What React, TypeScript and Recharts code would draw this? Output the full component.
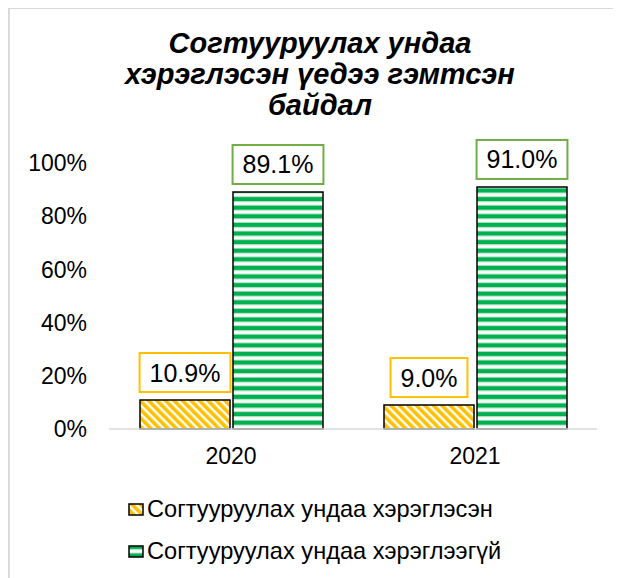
import React from 'react';
import { BarChart, Bar, XAxis, YAxis, LabelList } from 'recharts';

const categories = ['2020', '2021'];
const usedValues = [10.9, 9.0];
const notUsedValues = [89.1, 91.0];
const seriesNames = ['Согтууруулах ундаа хэрэглэсэн', 'Согтууруулах ундаа хэрэглээгүй'];
const yTicks = [0, 20, 40, 60, 80, 100];
const titleLines = ['Согтууруулах ундаа', 'хэрэглэсэн үедээ гэмтсэн', 'байдал'];

const YELLOW = '#FFC000';
const GREEN = '#00B050';
const YELLOW_BOX = '#FFC000';
const GREEN_BOX = '#70AD47';
const FONT = '"Liberation Sans", Arial, sans-serif';

const data = categories.map((c, i) => ({ year: c, used: usedValues[i], notUsed: notUsedValues[i] }));

const charW: Record<string, number> = { '.': 0.278, '%': 0.889 };
const textWidth = (s: string, size: number) =>
  s.split('').reduce((a, ch) => a + (charW[ch] ?? 0.556), 0) * size;

const makeLabel = (stroke: string) => (props: any) => {
  const { x, y, width, value } = props;
  const txt = Number(value).toFixed(1) + '%';
  const fs = 25;
  const w = textWidth(txt, fs) + 20;
  const h = 39;
  const cx = Number(x) + Number(width) / 2;
  const bottom = Number(y) - 8;
  return (
    <g>
      <rect x={cx - w / 2} y={bottom - h} width={w} height={h} fill="#fff" stroke={stroke} strokeWidth={2} />
      <text x={cx} y={bottom - h / 2} dy="0.36em" textAnchor="middle" fontSize={fs} fontFamily={FONT} fill="#000">
        {txt}
      </text>
    </g>
  );
};

const Patterns = () => (
  <defs>
    <pattern id="yellowDiag" patternUnits="userSpaceOnUse" width="6" height="6" patternTransform="rotate(-45)">
      <rect x="0" y="0" width="6" height="6" fill="#fff" />
      <rect x="0" y="0" width="3.6" height="6" fill={YELLOW} />
    </pattern>
    <pattern id="greenHoriz" patternUnits="userSpaceOnUse" width="8" height="8.6">
      <rect x="0" y="0" width="8" height="8.6" fill="#fff" />
      <rect x="0" y="0" width="8" height="4" fill={GREEN} />
      <rect x="0" y="4" width="8" height="1" fill="#9fdfb8" />
      <rect x="0" y="7.6" width="8" height="1" fill="#9fdfb8" />
    </pattern>
  </defs>
);

const LegendIcon = ({ fill }: { fill: string }) => (
  <svg width={16} height={13} style={{ display: 'block' }}>
    <Patterns />
    <rect x={1} y={1} width={14} height={11} fill={fill} stroke="#000" strokeWidth={1.5} />
  </svg>
);

export default function App() {
  return (
    <div style={{ position: 'relative', width: 613, height: 570, fontFamily: FONT, background: '#fff' }}>
      <div
        style={{
          position: 'absolute',
          left: 0,
          top: -1,
          width: 700,
          height: 700,
          borderLeft: '2px solid #d9d9d9',
          borderTop: '2px solid #d9d9d9',
          boxSizing: 'border-box',
          pointerEvents: 'none',
        }}
      />
      <div
        style={{
          position: 'absolute',
          left: 312 - 250,
          top: 20,
          width: 500,
          textAlign: 'center',
          fontWeight: 'bold',
          fontStyle: 'italic',
          fontSize: 29,
          lineHeight: '31px',
          color: '#000',
        }}
      >
        {titleLines.map((l, i) => (
          <div key={i}>{l}</div>
        ))}
      </div>
      <div style={{ position: 'absolute', left: 0, top: 0 }}>
        <BarChart
          width={613}
          height={570}
          data={data}
          margin={{ top: 155, right: 24, bottom: 119, left: 0 }}
          barGap={3}
          barSize={90}
        >
          <Patterns />
          <XAxis
            dataKey="year"
            height={30}
            axisLine={{ stroke: '#d9d9d9', strokeWidth: 1.5 }}
            tickLine={false}
            tickSize={0}
            tickMargin={19}
            tick={{ fontSize: 23, fill: '#000', fontFamily: FONT }}
          />
          <YAxis
            width={101}
            domain={[0, 100]}
            ticks={yTicks}
            tickFormatter={(v: number) => `${v}%`}
            axisLine={false}
            tickLine={false}
            tickSize={0}
            tickMargin={22}
            tick={{ fontSize: 23, fill: '#000', fontFamily: FONT }}
          />
          <Bar dataKey="used" name={seriesNames[0]} fill="url(#yellowDiag)" stroke="#000" strokeWidth={1.5} isAnimationActive={false}>
            <LabelList dataKey="used" content={makeLabel(YELLOW_BOX)} />
          </Bar>
          <Bar dataKey="notUsed" name={seriesNames[1]} fill="url(#greenHoriz)" stroke="#000" strokeWidth={1.5} isAnimationActive={false}>
            <LabelList dataKey="notUsed" content={makeLabel(GREEN_BOX)} />
          </Bar>
        </BarChart>
      </div>
      <div style={{ position: 'absolute', left: 120, top: 480, fontSize: 23.6, color: '#000' }}>
        {seriesNames.map((n, i) => (
          <div key={i} style={{ display: 'flex', alignItems: 'center', height: 42 }}>
            <LegendIcon fill={i === 0 ? 'url(#yellowDiag)' : 'url(#greenHoriz)'} />
            <span style={{ marginLeft: 3 }}>{n}</span>
          </div>
        ))}
      </div>
    </div>
  );
}
